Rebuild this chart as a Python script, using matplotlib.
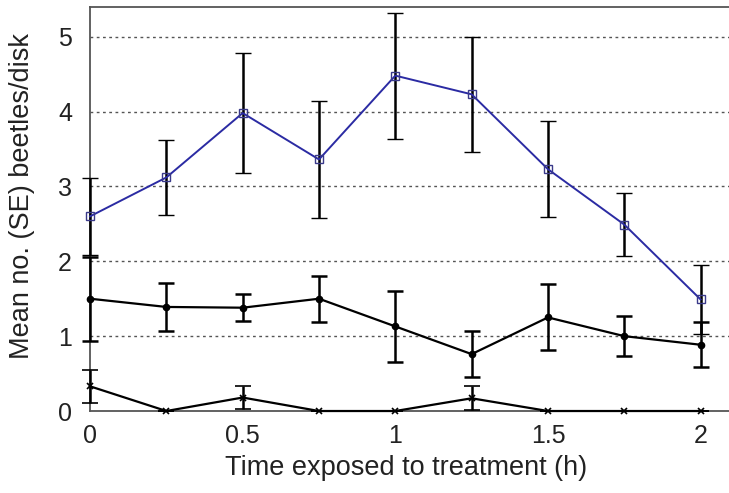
import matplotlib
matplotlib.use("Agg")
import matplotlib.pyplot as plt

plt.rcParams['font.family'] = ['Liberation Sans', 'DejaVu Sans']

# time points (h)
hours = [0, 0.25, 0.5, 0.75, 1, 1.25, 1.5, 1.75, 2]

# blue squares series
blue_mean = [2.60, 3.12, 3.98, 3.36, 4.48, 4.23, 3.23, 2.49, 1.49]
blue_se = [0.51, 0.50, 0.80, 0.78, 0.84, 0.77, 0.64, 0.42, 0.46]

# black dots series
dot_mean = [1.50, 1.39, 1.38, 1.50, 1.13, 0.76, 1.25, 1.00, 0.885]
dot_se = [0.56, 0.32, 0.18, 0.31, 0.47, 0.31, 0.44, 0.27, 0.30]

# crosses series
cross_mean = [0.33, 0.0, 0.18, 0.0, 0.0, 0.17, 0.0, 0.0, 0.0]
cross_se = [0.22, 0.0, 0.15, 0.0, 0.0, 0.16, 0.0, 0.0, 0.0]

fig = plt.figure(figsize=(7.29, 4.93), dpi=100)
ax = fig.add_axes([0.1235, 0.1663, 0.8765, 0.8185])

for y in [1, 2, 3, 4, 5]:
    ax.axhline(y, color='#555555', linestyle=(0, (2, 2.5)), linewidth=1.0, zorder=1)

err_kw = dict(ecolor='black', elinewidth=1.8, capsize=6, capthick=1.8)

conts = []
conts.append(ax.errorbar(hours, cross_mean, yerr=cross_se, color='black', marker='x',
                         markersize=5, markeredgewidth=1.2, linewidth=1.6, zorder=3, **err_kw))
conts.append(ax.errorbar(hours, dot_mean, yerr=dot_se, color='black', marker='o',
                         markersize=4.5, linewidth=1.6, zorder=3, **err_kw))
conts.append(ax.errorbar(hours, blue_mean, yerr=blue_se, color='#2b2ba3', marker='s',
                         markersize=6, markerfacecolor='none', markeredgecolor='#3a3a8a',
                         markeredgewidth=1.0, linewidth=1.4, zorder=4, **err_kw))
for c in conts:
    for art in c.get_children():
        art.set_clip_on(False)

ax.set_xlim(0, 2.093)
ax.set_ylim(0, 5.39)
ax.set_xticks([0, 0.5, 1, 1.5, 2])
ax.set_xticklabels(['0', '0.5', '1', '1.5', '2'])
ax.set_yticks([0, 1, 2, 3, 4, 5])
ax.tick_params(length=0, labelsize=18, colors='#222222')
ax.tick_params(axis='x', pad=9)
ax.tick_params(axis='y', pad=13)

for side in ['left', 'bottom', 'top']:
    ax.spines[side].set_color('#555555')
    ax.spines[side].set_linewidth(1.3)
ax.spines['right'].set_visible(False)

ax.set_xlabel('Time exposed to treatment (h)', fontsize=19.5, color='#222222')
ax.set_ylabel('Mean no. (SE) beetles/disk', fontsize=19.5, color='#222222')
ax.xaxis.set_label_coords(0.494, -0.11)
ax.yaxis.set_label_coords(-0.086, 0.533)

fig.savefig('out.png', dpi=100)
